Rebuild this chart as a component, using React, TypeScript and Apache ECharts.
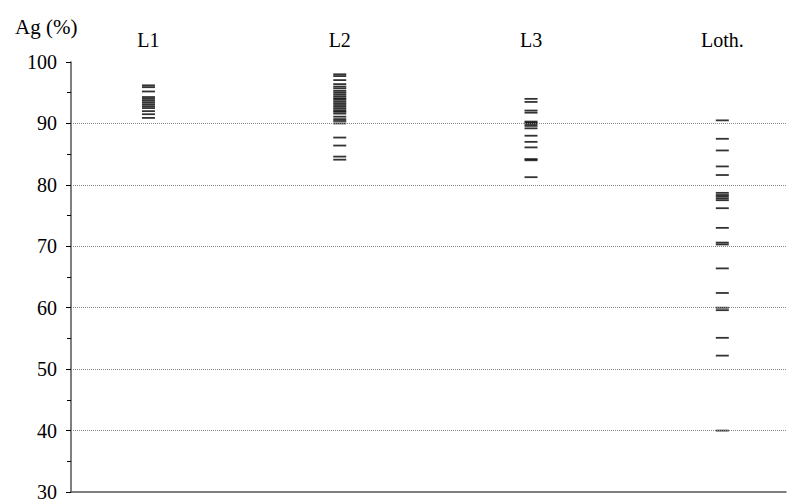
import React, { useEffect, useRef } from "react";
import * as echarts from "echarts";

const categories = ["L1", "L2", "L3", "Loth."];

const l1Values = [96.2, 95.9, 95.2, 94.3, 94.0, 93.7, 93.4, 93.1, 92.8, 92.5, 92.0, 91.5, 90.9];
const l2Values = [
  98.0, 97.7, 97.05, 96.4, 96.0, 95.7, 95.3, 95.0, 94.7, 94.4, 94.1, 93.9, 93.6, 93.3,
  93.0, 92.7, 92.4, 92.1, 91.9, 91.6, 91.1, 90.7, 90.4, 90.0, 87.7, 86.4, 84.6, 84.1,
];
const l3Values = [94.0, 93.5, 92.1, 91.75, 90.3, 90.1, 89.9, 89.6, 89.2, 88.0, 87.0, 86.1, 84.2, 84.0, 81.25];
const lothValues = [
  90.5, 87.5, 85.6, 83.0, 81.6, 78.7, 78.35, 78.1, 77.8, 77.5, 76.2, 73.0, 70.6, 70.3,
  66.4, 62.4, 60.0, 59.6, 55.1, 52.2, 40.0,
];
const groups = [l1Values, l2Values, l3Values, lothValues];

const gridValues = [40, 50, 60, 70, 80, 90];
const yTicks = { min: 30, max: 100, interval: 10 };

export default function App() {
  const ref = useRef<HTMLDivElement>(null);

  useEffect(() => {
    document.body.style.margin = "0";
    if (!ref.current) return;
    const chart = echarts.init(ref.current, undefined, { renderer: "svg", width: 788, height: 502 });
    const font = "serif";
    const data: number[][] = [];
    groups.forEach((vals, i) => vals.forEach((v) => data.push([i + 1, v])));
    const catPositions = categories.map((_, i) => i + 1);

    chart.setOption({
      animation: false,
      textStyle: { fontFamily: font },
      title: {
        text: "Ag (%)",
        left: 10,
        top: 11,
        textStyle: { fontFamily: font, fontSize: 21, fontWeight: "normal", color: "#000" },
      },
      grid: { left: 71, right: 2, top: 62, height: 435 },
      xAxis: [
        {
          type: "value",
          min: 0.595,
          max: 4.333,
          position: "bottom",
          axisLine: { show: true, onZero: false, lineStyle: { color: "#555", width: 1.5 } },
          axisTick: { show: false },
          axisLabel: { show: false },
          splitLine: { show: false },
        },
        {
          type: "value",
          min: 0.595,
          max: 4.333,
          position: "top",
          axisLine: { show: false },
          axisTick: { show: false },
          splitLine: { show: false },
          axisLabel: {
            show: true,
            customValues: catPositions,
            margin: 12,
            fontFamily: font,
            fontSize: 20,
            color: "#000",
            formatter: (v: number) => categories[Math.round(v) - 1] ?? "",
          },
        },
      ],
      yAxis: {
        type: "value",
        min: yTicks.min,
        max: yTicks.max,
        interval: yTicks.interval,
        axisLine: { show: true, onZero: false, lineStyle: { color: "#555", width: 1.5 } },
        axisTick: { show: true, length: 5, lineStyle: { color: "#000" } },
        minorTick: { show: true, splitNumber: 2, length: 4, lineStyle: { color: "#000" } },
        axisLabel: { margin: 14, fontFamily: font, fontSize: 20, color: "#000" },
        splitLine: { show: false },
      },
      series: [
        {
          type: "scatter",
          xAxisIndex: 0,
          data,
          symbol: "rect",
          symbolSize: [13, 1.8],
          itemStyle: { color: "#000" },
          markLine: {
            silent: true,
            symbol: "none",
            label: { show: false },
            lineStyle: { color: "#888", type: "dotted", width: 1 },
            data: gridValues.map((v) => ({ yAxis: v })),
          },
          z: 3,
        },
      ],
    });
    return () => chart.dispose();
  }, []);

  return <div ref={ref} style={{ width: 788, height: 502 }} />;
}
